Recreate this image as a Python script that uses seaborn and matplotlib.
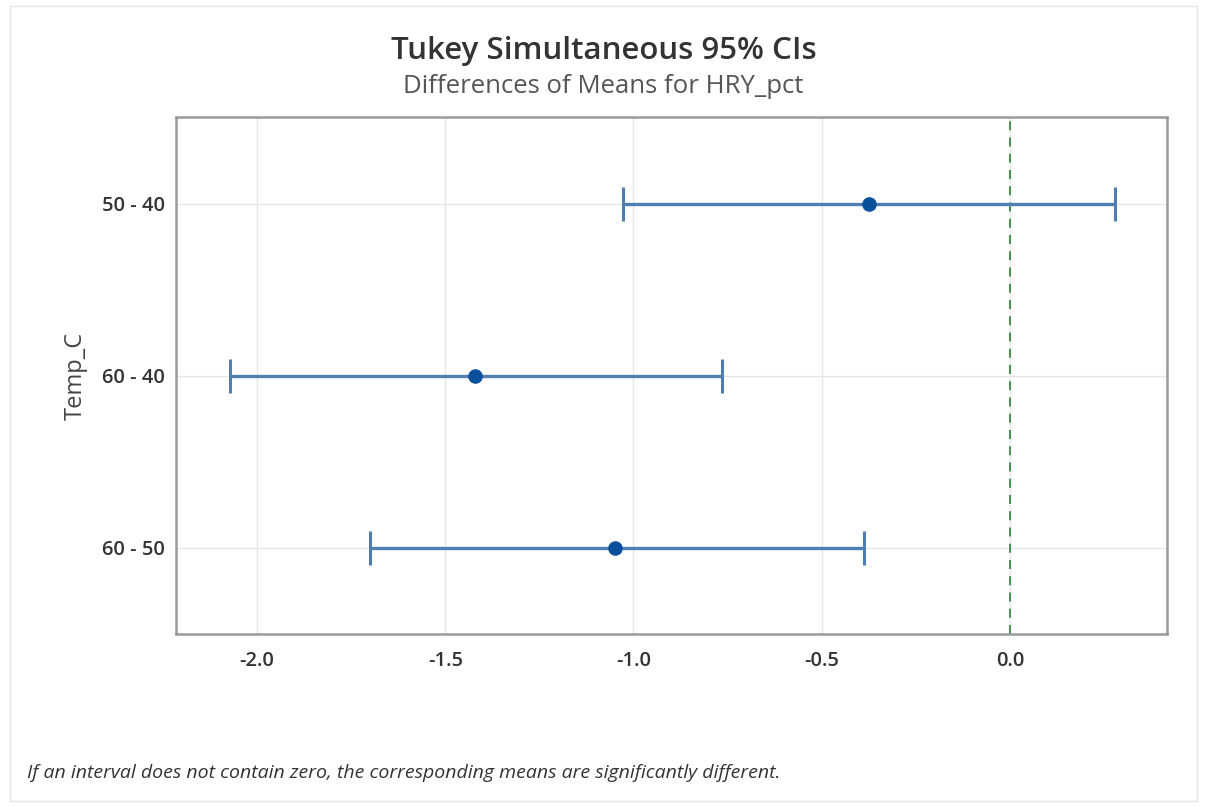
import matplotlib
matplotlib.use("Agg")
import matplotlib.pyplot as plt
import seaborn as sns
import pandas as pd
from matplotlib.patches import Rectangle

comparisons = ["50 - 40", "60 - 40", "60 - 50"]
diff_means = [-0.375, -1.420, -1.048]
lower_ci = [-1.029, -2.072, -1.699]
upper_ci = [0.279, -0.766, -0.388]
x_ticks = [-2.0, -1.5, -1.0, -0.5, 0.0]

sns.set_theme(style="white")
plt.rcParams['font.family'] = ['Open Sans', 'DejaVu Sans']

df = pd.DataFrame({"Temp_C": comparisons, "diff": diff_means,
                   "lo": lower_ci, "hi": upper_ci})

fig = plt.figure(figsize=(12.07, 8.07), dpi=100)
ax = fig.add_axes([0.146, 0.2144, 0.821, 0.640])

pos = list(range(len(comparisons)))
ax.errorbar(df["diff"], pos,
            xerr=[df["diff"] - df["lo"], df["hi"] - df["diff"]],
            fmt="none", ecolor="#4f7fb0", elinewidth=2.4, capsize=12,
            capthick=2.2, zorder=3)
sns.scatterplot(data=df, x="diff", y="Temp_C", ax=ax, color="#0a4f9c",
                s=110, edgecolor="#0a4f9c", linewidth=0, zorder=4)

ax.axvline(0.0, color="#3a8a45", linestyle=(0, (5, 4)), linewidth=1.3, zorder=2)

ax.set_xlim(-2.215, 0.418)
ax.set_ylim(2.5, -0.5)
ax.set_xticks(x_ticks)
ax.set_xticklabels([f"{v:.1f}" for v in x_ticks])
ax.set_yticks(pos)
ax.set_yticklabels(comparisons)

ax.grid(True, color="#e6e6e6", linewidth=1.0)
ax.set_axisbelow(True)
for s in ax.spines.values():
    s.set_color("#9a9a9a")
    s.set_linewidth(1.8)
ax.tick_params(axis="both", which="both", length=4, width=1, color="#9a9a9a",
               labelsize=14.5, labelcolor="#333333", pad=4)
for lab in ax.get_xticklabels() + ax.get_yticklabels():
    lab.set_fontweight("semibold")
ax.tick_params(axis="x", pad=8)

ax.set_xlabel("")
ax.set_ylabel("Temp_C", fontsize=17, color="#444444", labelpad=10)

fig.text(0.5, 0.937, "Tukey Simultaneous 95% CIs", ha="center", va="center",
         fontsize=22.5, color="#333333", fontweight="semibold")
fig.text(0.5, 0.893, "Differences of Means for HRY_pct", ha="center",
         va="center", fontsize=18.5, color="#555555")
fig.text(0.022, 0.042, "If an interval does not contain zero, the corresponding means are significantly different.",
         ha="left", va="center", fontsize=14, style="italic", color="#333333")

fig.patches.append(Rectangle((0.008, 0.008), 0.984, 0.984, transform=fig.transFigure,
                             fill=False, edgecolor="#e4e4e4", linewidth=1.0))

fig.savefig("out.png", dpi=100)
